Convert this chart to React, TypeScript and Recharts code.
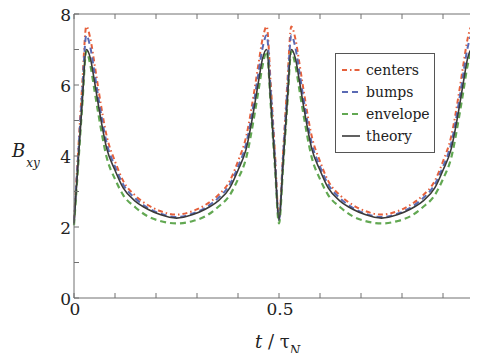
import { LineChart, Line, XAxis, YAxis, Label } from "recharts"

// time in units of tau_N
const tau = [
  0, 0.01, 0.02, 0.03, 0.04, 0.05, 0.06, 0.08, 0.1, 0.12, 0.15, 0.18, 0.21, 0.25,
  0.29, 0.32, 0.35, 0.38, 0.4, 0.42, 0.44, 0.45, 0.46, 0.47, 0.48, 0.49, 0.5,
  0.51, 0.52, 0.53, 0.54, 0.55, 0.56, 0.58, 0.6, 0.62, 0.65, 0.68, 0.71, 0.75,
  0.79, 0.82, 0.85, 0.88, 0.9, 0.92, 0.94, 0.95, 0.96, 0.97, 0.98, 0.99, 1,
]

const centers = [
  2.2, 4.1, 6.0, 7.65, 7.3, 6.6, 5.85, 4.55, 3.85, 3.3, 2.88, 2.62, 2.45, 2.35,
  2.45, 2.62, 2.88, 3.3, 3.85, 4.55, 5.85, 6.6, 7.3, 7.65, 6.0, 4.1, 2.25,
  4.1, 6.0, 7.65, 7.3, 6.6, 5.85, 4.55, 3.85, 3.3, 2.88, 2.62, 2.45, 2.35,
  2.45, 2.62, 2.88, 3.3, 3.85, 4.55, 5.85, 6.6, 7.3, 7.65, 6.0, 4.1, 2.2,
]

const bumps = [
  2.15, 4.0, 5.8, 7.4, 7.05, 6.35, 5.6, 4.35, 3.7, 3.2, 2.8, 2.54, 2.38, 2.28,
  2.38, 2.54, 2.8, 3.2, 3.7, 4.35, 5.6, 6.35, 7.05, 7.4, 5.8, 4.0, 2.2,
  4.0, 5.8, 7.4, 7.05, 6.35, 5.6, 4.35, 3.7, 3.2, 2.8, 2.54, 2.38, 2.28,
  2.38, 2.54, 2.8, 3.2, 3.7, 4.35, 5.6, 6.35, 7.05, 7.4, 5.8, 4.0, 2.15,
]

const envelope = [
  2.05, 3.7, 5.4, 6.95, 6.55, 5.85, 5.15, 3.95, 3.35, 2.9, 2.55, 2.3, 2.17, 2.1,
  2.17, 2.3, 2.55, 2.9, 3.35, 3.95, 5.15, 5.85, 6.55, 6.95, 5.4, 3.7, 2.1,
  3.7, 5.4, 6.95, 6.55, 5.85, 5.15, 3.95, 3.35, 2.9, 2.55, 2.3, 2.17, 2.1,
  2.17, 2.3, 2.55, 2.9, 3.35, 3.95, 5.15, 5.85, 6.55, 6.95, 5.4, 3.7, 2.05,
]

const theory = [
  2.1, 3.8, 5.5, 7.0, 6.75, 6.1, 5.4, 4.2, 3.6, 3.1, 2.72, 2.5, 2.35, 2.25,
  2.35, 2.5, 2.72, 3.1, 3.6, 4.2, 5.4, 6.1, 6.75, 7.0, 5.5, 3.8, 2.2,
  3.8, 5.5, 7.0, 6.75, 6.1, 5.4, 4.2, 3.6, 3.1, 2.72, 2.5, 2.35, 2.25,
  2.35, 2.5, 2.72, 3.1, 3.6, 4.2, 5.4, 6.1, 6.75, 7.0, 5.5, 3.8, 2.1,
]

const xTicks = [0, 0.1, 0.2, 0.3, 0.4, 0.5, 0.6, 0.7, 0.8, 0.9, 1]
const xLabels: Record<number, string> = { 0: "0", 0.5: "0.5" }
const yTicks = [0, 1, 2, 3, 4, 5, 6, 7, 8]

const data = tau.map((t, i) => ({
  t,
  centers: centers[i],
  bumps: bumps[i],
  envelope: envelope[i],
  theory: theory[i],
}))

const serif = "DejaVu Serif"
const axisColor = "#707070"
const textColor = "#222"

const series = [
  { key: "centers", color: "#e5603c", dash: "5 3 1.5 3", width: 2 },
  { key: "bumps", color: "#5a6ab4", dash: "6 4", width: 2 },
  { key: "envelope", color: "#62a852", dash: "6 4", width: 2.2 },
  { key: "theory", color: "#3a3a3a", dash: undefined, width: 1.6 },
]

function BottomTick({ x, y, payload }: any) {
  const label = xLabels[payload.value]
  return (
    <g>
      <line x1={x} x2={x} y1={y} y2={y - 5} stroke={axisColor} />
      {label && (
        <text x={x + 1} y={y + 17} textAnchor="middle" fontSize={17} fontFamily={serif} fill={textColor}>
          {label}
        </text>
      )}
    </g>
  )
}

function TopTick({ x, y }: any) {
  return <line x1={x} x2={x} y1={y} y2={y + 5} stroke={axisColor} />
}

function LeftTick({ x, y, payload }: any) {
  const v = payload.value
  return (
    <g>
      <line x1={x} x2={x + 5} y1={y} y2={y} stroke={axisColor} />
      {v % 2 === 0 && (
        <text x={x - 3} y={y + 7} textAnchor="end" fontSize={17} fontFamily={serif} fill={textColor}>
          {v}
        </text>
      )}
    </g>
  )
}

function RightTick({ x, y }: any) {
  return <line x1={x} x2={x - 5} y1={y} y2={y} stroke={axisColor} />
}

function LegendBox() {
  return (
    <div
      style={{
        position: "absolute",
        left: 335,
        top: 53,
        border: "1.5px solid #555",
        background: "#fff",
        padding: "5px 4px 5px 4px",
        fontFamily: serif,
        fontSize: 14,
        lineHeight: "22px",
        color: textColor,
      }}
    >
      {series.map((s) => (
        <div key={s.key} style={{ display: "flex", alignItems: "center" }}>
          <svg width={22} height={10}>
            <line x1={2} x2={20} y1={5} y2={5} stroke={s.color} strokeWidth={s.width} strokeDasharray={s.dash} />
          </svg>
          <span style={{ marginLeft: 4 }}>{s.key}</span>
        </div>
      ))}
    </div>
  )
}

export default function App() {
  return (
    <div style={{ margin: -8, width: 478, height: 361, overflow: "hidden", position: "relative" }}>
      <LineChart width={488} height={361} data={data} margin={{ top: 0, right: 0, left: 0, bottom: 0 }}>
        <XAxis
          xAxisId="bottom"
          dataKey="t"
          type="number"
          domain={[0, 1]}
          ticks={xTicks}
          tick={<BottomTick />}
          tickLine={false}
          tickSize={0}
          tickMargin={0}
          interval={0}
          height={63}
          axisLine={{ stroke: axisColor }}
        >
          <Label
            content={() => (
              <text x={255} y={348} fontSize={18} fontFamily={serif} fill={textColor}>
                <tspan fontStyle="italic">t</tspan>
                <tspan> / τ</tspan>
                <tspan fontStyle="italic" fontSize={12} dy={7}>N</tspan>
              </text>
            )}
          />
        </XAxis>
        <XAxis
          xAxisId="top"
          orientation="top"
          dataKey="t"
          type="number"
          domain={[0, 1]}
          ticks={xTicks}
          tick={<TopTick />}
          tickLine={false}
          tickSize={0}
          tickMargin={0}
          interval={0}
          height={14}
          axisLine={{ stroke: axisColor }}
        />
        <YAxis
          yAxisId="left"
          domain={[0, 8]}
          ticks={yTicks}
          tick={<LeftTick />}
          tickLine={false}
          tickSize={0}
          tickMargin={0}
          interval={0}
          width={74}
          axisLine={{ stroke: axisColor }}
        >
          <Label
            content={() => (
              <text x={12} y={157} fontSize={18} fontFamily={serif} fill={textColor}>
                <tspan fontStyle="italic">B</tspan>
                <tspan fontStyle="italic" fontSize={12} dx={1} dy={10}>xy</tspan>
              </text>
            )}
          />
        </YAxis>
        <YAxis
          yAxisId="right"
          orientation="right"
          domain={[0, 8]}
          ticks={yTicks}
          tick={<RightTick />}
          tickLine={false}
          tickSize={0}
          tickMargin={0}
          interval={0}
          width={4}
          axisLine={{ stroke: axisColor }}
        />
        {series.map((s) => (
          <Line
            key={s.key}
            xAxisId="bottom"
            yAxisId="left"
            type="monotone"
            dataKey={s.key}
            stroke={s.color}
            strokeWidth={s.width}
            strokeDasharray={s.dash}
            dot={false}
            isAnimationActive={false}
          />
        ))}
      </LineChart>
      <LegendBox />
    </div>
  )
}
